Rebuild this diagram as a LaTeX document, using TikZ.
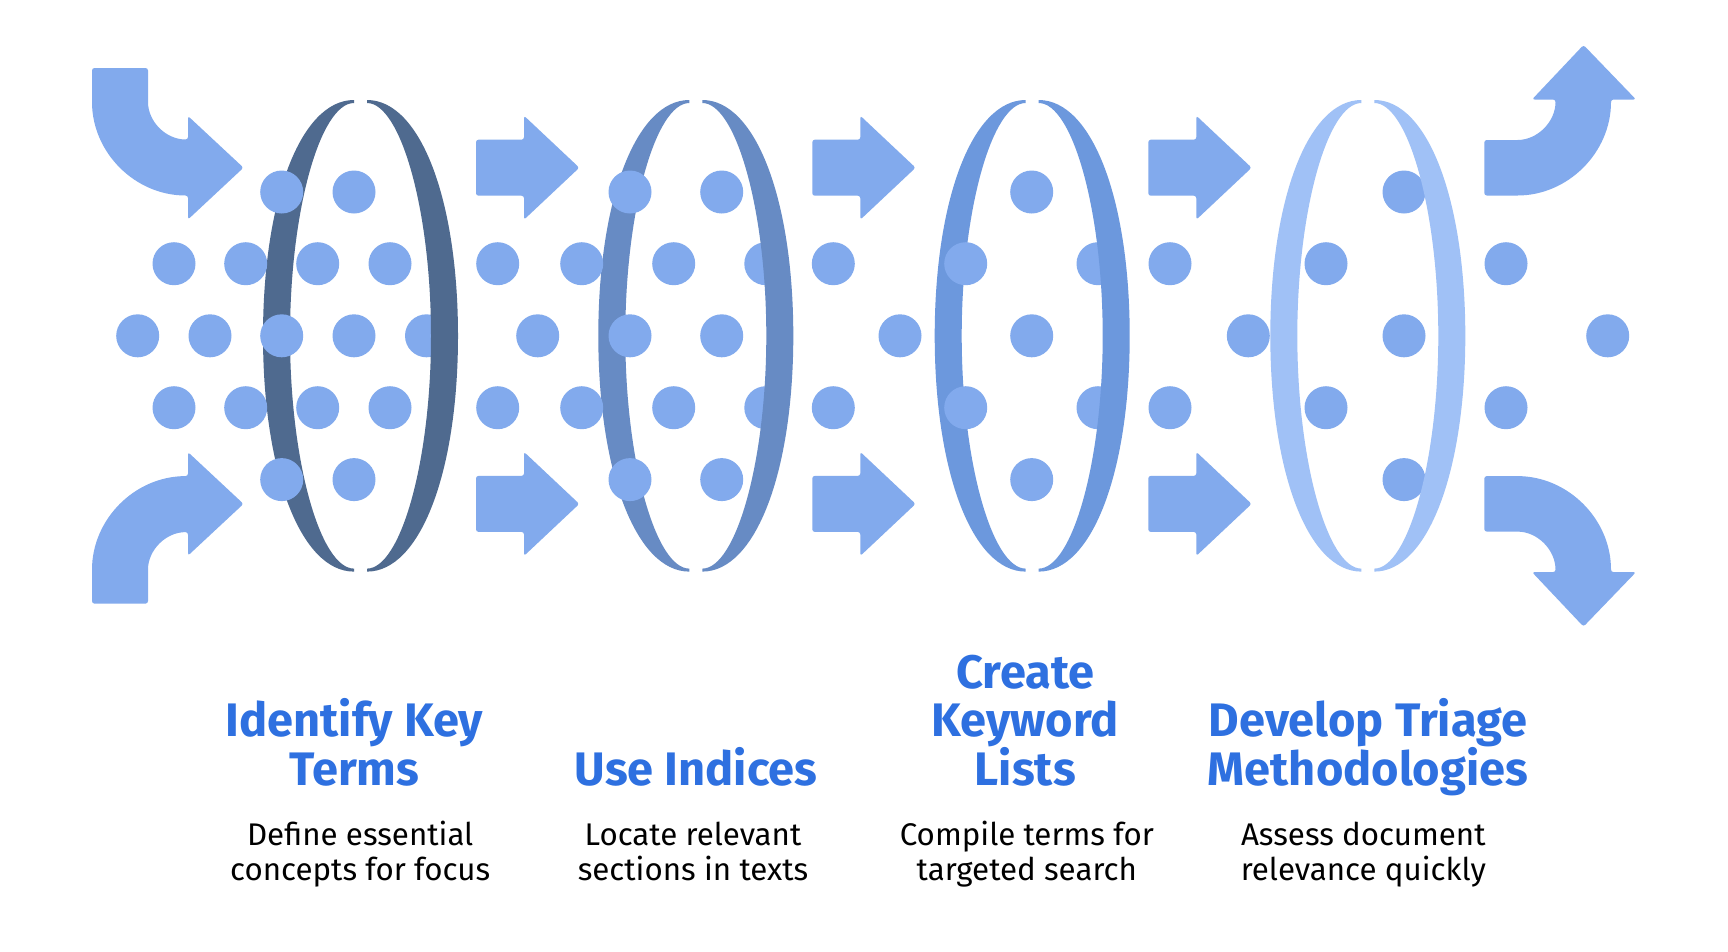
\documentclass[tikz,border=0pt]{standalone}
\usepackage{fontspec}
\setmainfont{Fira Sans}
\definecolor{dotc}{RGB}{130,170,237}
\definecolor{ringA}{RGB}{79,106,143}
\definecolor{ringB}{RGB}{103,139,196}
\definecolor{ringC}{RGB}{108,152,221}
\definecolor{ringD}{RGB}{160,193,246}
\definecolor{headc}{RGB}{46,112,224}
\tikzset{
  flow/.style={fill=dotc, rounded corners=2.5pt},
  dotfill/.style={fill=dotc},
  heading/.style={anchor=base, text=headc, inner sep=0pt, font=\fontsize{47}{50}\selectfont\bfseries},
  desc/.style={anchor=base, text=black, inner sep=0pt, font=\fontsize{31.3}{36}\selectfont},
}
\newcommand\lenshalf[3]{% center x, color, side (1 left, -1 right)
  \begin{scope}[shift={(#1,0)}, xscale=#3]
    \fill[#2] (-6.5,100) .. controls (-60,100) and (-97.5,200) .. (-97.5,335.8)
      .. controls (-97.5,471.6) and (-60,571.6) .. (-6.5,571.6) -- (-6.5,568.6)
      .. controls (-40,568.6) and (-70.5,461.6) .. (-70.5,335.8)
      .. controls (-70.5,210) and (-40,103) .. (-6.5,103) -- cycle;
  \end{scope}}
\newcommand\straightarrow[2]{% x0, mid y
  \fill[flow] (#1,#2-28) -- (#1+48,#2-28) -- (#1+48,#2-52) -- (#1+103.3,#2)
    -- (#1+48,#2+52) -- (#1+48,#2+28) -- (#1,#2+28) -- cycle;}
\begin{document}
\begin{tikzpicture}[x=1pt,y=-1pt]
\useasboundingbox[fill=white] (0,0) rectangle (1728,951);

% left crescents
\lenshalf{360.5}{ringA}{1}
\lenshalf{695.8}{ringB}{1}
\lenshalf{1032.2}{ringC}{1}
\lenshalf{1367.8}{ringD}{1}

% dots
\foreach \x in {281.7,354,630,721.7,1031.7,1404}{
  \fill[dotfill] (\x,192) circle [radius=21.5];
  \fill[dotfill] (\x,479.6) circle [radius=21.5];}
\foreach \x in {174,245.7,317.7,390,497.7,581.7,673.7,765.8,833.3,965.7,1098,1170,1326,1506}{
  \fill[dotfill] (\x,263.7) circle [radius=21.5];
  \fill[dotfill] (\x,407.7) circle [radius=21.5];}
\foreach \x in {137.7,210,281.7,354,426.5,537.7,630,721.7,900,1031.7,1248.3,1404,1607.7}{
  \fill[dotfill] (\x,335.8) circle [radius=21.5];}

% right crescents
\lenshalf{360.5}{ringA}{-1}
\lenshalf{695.8}{ringB}{-1}
\lenshalf{1032.2}{ringC}{-1}
\lenshalf{1367.8}{ringD}{-1}

% straight arrows
\foreach \x in {476,812.3,1148.3}{
  \straightarrow{\x}{167.7}
  \straightarrow{\x}{503.9}}

% top-left curved arrow
\fill[flow] (92,68) -- (148,68) -- (148,99.5) arc [start angle=180, end angle=90, radius=40]
  -- (188,116) -- (243.5,167.7) -- (188,219.5) -- (188,195.5)
  arc [start angle=90, end angle=180, radius=96] -- cycle;
% bottom-left curved arrow
\begin{scope}[shift={(0,671.6)}, yscale=-1]
\fill[flow] (92,68) -- (148,68) -- (148,99.5) arc [start angle=180, end angle=90, radius=40]
  -- (188,116) -- (243.5,167.7) -- (188,219.5) -- (188,195.5)
  arc [start angle=90, end angle=180, radius=96] -- cycle;
\end{scope}
% top-right curved arrow
\fill[flow] (1484.3,140) -- (1515,140) arc [start angle=90, end angle=0, radius=40.5]
  -- (1532,99.5) -- (1583.5,45) -- (1636,99.5) -- (1611,99.5)
  arc [start angle=0, end angle=90, radius=96] -- (1484.3,195.5) -- cycle;
% bottom-right curved arrow
\begin{scope}[shift={(0,671.6)}, yscale=-1]
\fill[flow] (1484.3,140) -- (1515,140) arc [start angle=90, end angle=0, radius=40.5]
  -- (1532,99.5) -- (1583.5,45) -- (1636,99.5) -- (1611,99.5)
  arc [start angle=0, end angle=90, radius=96] -- (1484.3,195.5) -- cycle;
\end{scope}

% headings
\node[heading] (h1a) at (354.3,736.7) {Identify Key};
\node[heading] (h1b) at (354.3,785) {Terms};
\node[heading] (h2a) at (696,785) {Use Indices};
\node[heading] (h3a) at (1025.3,688) {Create};
\node[heading] (h3b) at (1025.3,736.7) {Keyword};
\node[heading] (h3c) at (1025.3,785) {Lists};
\node[heading] (h4a) at (1368,736.7) {Develop Triage};
\node[heading] (h4b) at (1368,785) {Methodologies};

% descriptions
\node[desc] (d1a) at (360.2,845) {Define essential};
\node[desc] (d1b) at (360.2,880.7) {concepts for focus};
\node[desc] (d2a) at (693,845) {Locate relevant};
\node[desc] (d2b) at (693,880.7) {sections in texts};
\node[desc] (d3a) at (1026.8,845) {Compile terms for};
\node[desc] (d3b) at (1026.8,880.7) {targeted search};
\node[desc] (d4a) at (1363.3,845) {Assess document};
\node[desc] (d4b) at (1363.3,880.7) {relevance quickly};
\end{tikzpicture}
\end{document}
